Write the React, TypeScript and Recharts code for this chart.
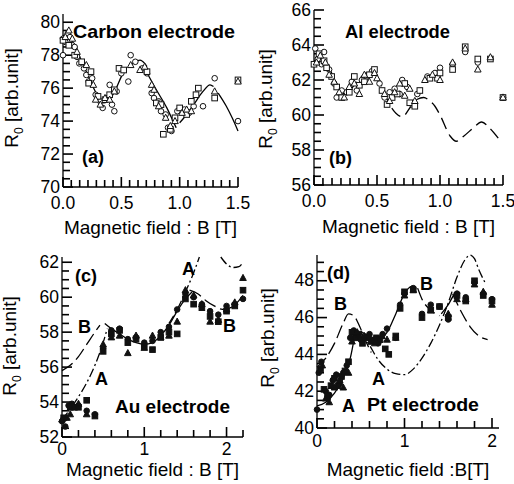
import { ComposedChart, Scatter, Line, XAxis, YAxis } from "recharts";

type Pair = [number, number | null];

// (a) Carbon electrode — open markers
const carbonCircles: Pair[] = [
  [0.0, 79.0], [0.02, 78.8], [0.04, 79.3], [0.06, 79.1], [0.0, 78.0], [0.08, 78.6],
  [0.1, 78.5], [0.12, 77.9], [0.14, 77.5], [0.18, 77.2], [0.2, 76.8], [0.22, 76.4],
  [0.25, 76.6], [0.28, 75.6], [0.32, 75.2], [0.34, 74.8], [0.38, 75.4], [0.4, 76.2],
  [0.42, 75.0], [0.44, 74.6], [0.46, 75.8], [0.5, 76.9], [0.58, 78.0], [0.56, 76.4],
  [0.62, 77.6], [0.68, 77.2], [0.72, 76.9], [0.76, 75.7], [0.78, 75.4], [0.82, 75.2],
  [0.84, 74.6], [0.88, 74.4], [0.9, 73.6], [0.93, 73.4], [0.98, 74.6], [1.04, 74.7],
  [1.08, 74.5], [1.12, 74.9], [1.2, 74.9], [1.3, 76.6], [1.5, 74.0],
];
const carbonSquares: Pair[] = [
  [0.0, 78.9], [0.05, 78.6], [0.1, 78.0], [0.16, 77.6], [0.22, 76.3], [0.24, 77.0],
  [0.3, 75.5], [0.36, 75.3], [0.4, 75.6], [0.44, 75.9], [0.48, 77.2], [0.52, 77.1],
  [0.72, 77.0], [0.8, 75.1], [0.84, 75.0], [0.86, 73.2], [0.92, 73.5], [0.96, 74.2],
  [1.0, 74.8], [1.06, 74.4], [1.1, 75.2], [1.14, 75.6], [1.16, 76.0], [1.3, 75.4],
  [1.5, 76.5],
];
const carbonTriangles: Pair[] = [
  [0.02, 79.1], [0.05, 79.5], [0.08, 79.0], [0.12, 78.2], [0.2, 77.4], [0.26, 76.2],
  [0.28, 75.3], [0.32, 75.0], [0.36, 75.4], [0.4, 75.3], [0.44, 75.8], [0.58, 77.4],
  [0.66, 77.1], [0.7, 77.3], [0.76, 76.2], [0.78, 75.9], [0.82, 74.9], [0.88, 74.2],
  [0.92, 73.7], [0.96, 74.0], [1.02, 74.5], [1.06, 74.7], [1.1, 74.6], [1.3, 75.8],
  [1.5, 76.4],
];
const carbonFit: Pair[] = [
  [0.0, 79.2], [0.05, 79.1], [0.1, 78.6], [0.15, 77.8], [0.2, 77.0], [0.25, 76.2],
  [0.3, 75.5], [0.35, 75.1], [0.4, 75.3], [0.45, 75.9], [0.5, 76.7], [0.53, 77.1],
  [0.55, null], [0.57, 77.3], [0.62, 77.6], [0.66, 77.7], [0.7, 77.5], [0.72, 77.3],
  [0.725, null], [0.73, 76.8], [0.8, 75.9], [0.89, 74.8], [0.95, 73.9], [0.97, 73.6],
  [0.98, null], [1.0, 73.9], [1.06, 74.4], [1.12, 75.0], [1.2, 75.8], [1.26, 76.2],
  [1.29, 76.1], [1.31, null], [1.33, 75.7], [1.4, 74.9], [1.45, 74.2], [1.5, 73.4],
];

// (b) Al electrode — open markers
const alCircles: Pair[] = [
  [0.01, 63.8], [0.03, 63.2], [0.06, 62.9], [0.08, 63.6], [0.12, 62.6], [0.16, 61.8],
  [0.18, 61.0], [0.22, 61.4], [0.26, 61.3], [0.3, 61.9], [0.34, 61.4], [0.38, 62.0],
  [0.42, 62.2], [0.46, 62.5], [0.52, 61.8], [0.56, 61.0], [0.6, 61.3], [0.64, 61.5],
  [0.68, 61.2], [0.7, 62.0], [0.74, 61.6], [0.78, 60.6], [0.82, 61.2], [0.9, 62.2],
  [0.96, 62.4], [1.0, 62.7], [1.1, 62.9], [1.2, 63.6], [1.3, 63.0], [1.5, 61.0],
];
const alSquares: Pair[] = [
  [0.0, 62.9], [0.04, 63.5], [0.08, 63.1], [0.1, 62.7], [0.14, 62.2], [0.18, 61.6],
  [0.22, 61.0], [0.28, 61.3], [0.32, 62.2], [0.36, 61.7], [0.4, 61.9], [0.44, 62.3],
  [0.48, 62.6], [0.54, 61.4], [0.58, 60.6], [0.62, 61.0], [0.66, 61.2], [0.72, 61.8],
  [0.76, 60.7], [0.8, 60.5], [0.84, 61.4], [0.92, 62.1], [0.98, 62.1], [1.0, 62.4],
  [1.1, 62.6], [1.2, 63.9], [1.3, 63.2], [1.4, 63.2], [1.5, 61.0],
];
const alTriangles: Pair[] = [
  [0.02, 63.0], [0.05, 63.4], [0.09, 63.0], [0.12, 62.3], [0.16, 61.9], [0.2, 61.3],
  [0.24, 61.0], [0.28, 61.6], [0.32, 61.8], [0.36, 61.2], [0.4, 62.3], [0.44, 61.9],
  [0.48, 62.4], [0.5, 62.1], [0.56, 61.2], [0.6, 60.8], [0.64, 61.3], [0.68, 61.8],
  [0.72, 61.1], [0.76, 61.5], [0.8, 60.8], [0.88, 62.0], [0.94, 62.3], [1.0, 62.0],
  [1.1, 63.0], [1.2, 63.8], [1.3, 62.6], [1.4, 63.3], [1.5, 61.0],
];
const alFit: Pair[] = [
  [0.0, 63.1], [0.1, 62.9], [0.14, 62.4], [0.19, 61.6], [0.25, 61.2], [0.34, 61.9],
  [0.42, 62.4], [0.49, 62.3], [0.54, 61.6], [0.6, 60.6], [0.65, 60.1], [0.7, 59.9],
  [0.77, 60.5], [0.82, 60.9], [0.87, 61.0], [0.92, 60.8], [0.96, 60.5], [1.0, 60.0],
  [1.08, 58.8], [1.13, 58.5], [1.19, 58.8], [1.27, 59.3], [1.33, 59.6], [1.4, 59.2],
  [1.47, 58.6],
];

// (c) Au electrode — filled markers
const auCircles: Pair[] = [
  [0.0, 52.9], [0.04, 52.6], [0.08, 53.8], [0.12, 53.9], [0.2, 53.8], [0.3, 53.5],
  [0.4, 53.3], [0.5, 57.1], [0.6, 58.1], [0.7, 58.2], [0.8, 57.6], [0.9, 57.7],
  [1.0, 57.4], [1.1, 57.5], [1.2, 58.0], [1.3, 58.3], [1.4, 59.3], [1.5, 60.2],
  [1.6, 60.0], [1.7, 59.6], [1.8, 59.2], [1.9, 59.0], [2.0, 59.5], [2.1, 59.6], [2.2, 59.9],
];
const auSquares: Pair[] = [
  [0.02, 53.1], [0.1, 53.7], [0.15, 53.7], [0.2, 53.7], [0.3, 54.1], [0.4, 53.2],
  [0.5, 56.9], [0.6, 57.9], [0.7, 58.1], [0.8, 57.4], [0.9, 57.6], [1.0, 57.2],
  [1.1, 57.0], [1.2, 57.7], [1.3, 58.0], [1.4, 57.9], [1.5, 59.9], [1.6, 59.6],
  [1.7, 59.4], [1.8, 58.9], [1.9, 58.6], [2.0, 59.2], [2.1, 59.5], [2.2, 60.4],
];
const auTriangles: Pair[] = [
  [0.0, 53.0], [0.06, 53.1], [0.1, 53.3], [0.2, 53.9], [0.3, 53.3], [0.5, 57.3],
  [0.6, 57.7], [0.7, 57.8], [0.8, 56.8], [0.9, 57.8], [1.0, 57.1], [1.1, 57.8],
  [1.2, 57.7], [1.3, 57.8], [1.4, 58.6], [1.5, 60.4], [1.6, 60.1], [1.7, 59.6],
  [1.8, 58.6], [1.9, 58.7], [2.0, 59.3], [2.1, 59.7], [2.2, 61.1],
];
const auSolid: Pair[] = [
  [0.52, 58.5], [0.6, 58.2], [0.7, 57.9], [0.8, 57.6], [0.9, 57.4], [1.0, 57.3],
  [1.1, 57.4], [1.2, 57.8], [1.3, 58.4], [1.4, 59.2], [1.5, 59.9], [1.58, 60.3],
];
const auCurveA: Pair[] = [
  [0.0, 53.0], [0.1, 53.6], [0.2, 54.3], [0.3, 55.1], [0.4, 56.1], [0.5, 57.4],
  [0.55, 58.2], [0.6, null], [1.3, 58.5], [1.4, 59.3], [1.5, 60.3], [1.6, 61.4],
  [1.67, 62.3], [1.8, null], [1.93, 62.3], [2.0, 61.9], [2.08, 61.7], [2.15, 61.75],
  [2.2, 62.0],
];
const auCurveB: Pair[] = [
  [0.0, 55.8], [0.1, 56.1], [0.2, 56.6], [0.3, 57.3], [0.4, 58.0], [0.46, 58.4],
  [0.5, null], [1.55, 60.4], [1.65, 60.2], [1.75, 59.8], [1.85, 59.5], [1.95, 59.3],
  [2.05, 59.4], [2.15, 59.8], [2.2, 60.1],
];

// (d) Pt electrode — filled markers
const ptCircles: Pair[] = [
  [0.0, 41.0], [0.02, 43.0], [0.05, 43.6], [0.1, 42.0], [0.14, 41.8], [0.18, 42.6],
  [0.22, 42.9], [0.26, 42.4], [0.3, 43.0], [0.34, 43.4], [0.38, 44.9], [0.42, 45.3],
  [0.46, 45.0], [0.5, 44.8], [0.55, 44.9], [0.6, 45.1], [0.65, 44.8], [0.7, 44.6],
  [0.75, 45.1], [0.8, 45.4], [0.9, 44.9], [0.95, 46.7], [1.0, 47.3], [1.1, 47.6],
  [1.2, 46.2], [1.3, 46.7], [1.4, 46.6], [1.5, 45.9], [1.6, 47.3], [1.7, 47.1],
  [1.8, 47.9], [1.9, 47.3], [2.0, 47.0],
];
const ptSquares: Pair[] = [
  [0.04, 43.2], [0.08, 42.1], [0.12, 41.7], [0.16, 42.3], [0.2, 42.7], [0.24, 42.3],
  [0.28, 42.8], [0.32, 43.1], [0.36, 43.6], [0.4, 45.2], [0.44, 44.9], [0.48, 45.1],
  [0.52, 44.6], [0.58, 44.9], [0.62, 44.7], [0.68, 44.9], [0.72, 44.8], [0.78, 44.3],
  [0.82, 44.0], [0.9, 45.0], [0.95, 46.5], [1.0, 47.4], [1.1, 47.5], [1.2, 46.0],
  [1.3, 46.4], [1.4, 46.6], [1.5, 46.0], [1.6, 47.2], [1.7, 46.9], [1.8, 48.0],
  [1.9, 47.2], [2.0, 46.9],
];
const ptTriangles: Pair[] = [
  [0.06, 43.4], [0.1, 41.6], [0.14, 41.4], [0.2, 42.2], [0.26, 42.6], [0.3, 42.2],
  [0.36, 43.0], [0.4, 44.7], [0.46, 45.2], [0.54, 45.0], [0.6, 44.9], [0.66, 44.6],
  [0.74, 45.0], [0.8, 44.8], [0.9, 44.9], [1.0, 47.2], [1.1, 47.5], [1.3, 46.4],
  [1.5, 46.2], [1.6, 47.0], [1.7, 47.0], [1.8, 47.8], [1.9, 47.4], [2.0, 46.7],
];
const ptSolid: Pair[] = [
  [0.0, 41.2], [0.1, 41.4], [0.2, 41.9], [0.3, 42.7], [0.38, 43.8], [0.44, 45.0],
  [0.5, 45.2], [0.6, 45.0], [0.7, 44.8], [0.8, 45.2], [0.9, 46.2], [1.0, 47.3],
  [1.08, 47.7], [1.12, 47.5], [1.3, null], [1.42, 46.2], [1.5, 46.7], [1.56, 47.2],
  [1.6, 47.4],
];
const ptCurveA: Pair[] = [
  [0.5, 45.2], [0.6, 44.5], [0.7, 43.7], [0.8, 43.2], [0.9, 42.95], [1.0, 42.9],
  [1.1, 43.2], [1.2, 43.8], [1.3, 44.6], [1.4, 45.6], [1.5, 46.8], [1.6, 48.2],
  [1.7, 49.2], [1.75, 49.4], [1.8, 49.2], [1.85, 48.6], [1.92, 47.9],
];
const ptCurveB: Pair[] = [
  [0.0, 43.3], [0.1, 43.8], [0.2, 44.6], [0.3, 45.7], [0.36, 46.2], [0.42, 46.1],
  [0.48, 45.6], [0.55, 44.8], [0.62, 44.1], [0.7, null], [1.15, 47.6], [1.2, 47.0],
  [1.3, 46.4], [1.4, 46.1], [1.5, null], [1.55, 47.3], [1.65, 46.3], [1.75, 45.5],
  [1.85, 45.0], [1.95, 44.8],
];

const toRows = (list: Pair[]) => list.map(([b, r]) => ({ b, r }));

const range = (lo: number, hi: number, step: number) => {
  const out: number[] = [];
  for (let v = lo; v <= hi + 1e-9; v += step) out.push(Math.round(v * 1000) / 1000);
  return out;
};

type Kind = "circle" | "square" | "triangle";

function makeMarker(kind: Kind, filled: boolean) {
  return (p: any) => {
    const { cx, cy } = p;
    if (cx == null || cy == null) return <g />;
    const fill = filled ? "#111" : "#fff";
    const common = { fill, stroke: "#111", strokeWidth: 1 };
    if (kind === "circle") return <circle cx={cx} cy={cy} r={2.8} {...common} />;
    if (kind === "square")
      return <rect x={cx - 2.8} y={cy - 2.8} width={5.6} height={5.6} {...common} />;
    return (
      <polygon
        points={`${cx},${cy - 3.6} ${cx - 3.3},${cy + 2.5} ${cx + 3.3},${cy + 2.5}`}
        {...common}
      />
    );
  };
}

const isIn = (list: number[], v: number) => list.some((m) => Math.abs(m - v) < 1e-6);

type Curve = { rows: Pair[]; dash?: string };
type Note = { x: number; y: number; text: string; size?: number; len?: number };

interface PanelProps {
  left: number;
  top: number;
  w: number;
  h: number;
  box: [number, number, number, number];
  xDomain: [number, number];
  yDomain: [number, number];
  xTicks: number[];
  xMajor: number[];
  xFmt: (v: number) => string;
  yTicks: number[];
  yMajor: number[];
  filled: boolean;
  marks: [Pair[], Kind][];
  curves: Curve[];
  notes: Note[];
  xTitle: string;
  xTitleY: number;
  xLabelDy: number;
  yTitleX: number;
  yTitleY: number;
}

const FONT = "'Liberation Sans', Arial, Helvetica, sans-serif";

function Panel(props: PanelProps) {
  const [l, t, r, b] = props.box;
  const [x0, x1] = props.xDomain;
  const [y0, y1] = props.yDomain;
  // inward tick marks along the bottom and left frame
  const tickX = (v: number) => l + ((v - x0) / (x1 - x0)) * (r - l);
  const tickY = (v: number) => b - ((v - y0) / (y1 - y0)) * (b - t);

  const xTick = (p: any) => {
    const v = p.payload.value;
    if (!isIn(props.xMajor, v)) return <g />;
    return (
      <text x={p.x} y={p.y + props.xLabelDy} textAnchor="middle" fontSize={17.5} fill="#000" fontFamily={FONT}>
        {props.xFmt(v)}
      </text>
    );
  };
  const yTick = (p: any) => {
    const v = p.payload.value;
    if (!isIn(props.yMajor, v)) return <g />;
    return (
      <text x={p.x - 3} y={p.y + 5.5} textAnchor="end" fontSize={17.5} fill="#000" fontFamily={FONT}>
        {v}
      </text>
    );
  };
  return (
    <div style={{ position: "absolute", left: props.left, top: props.top }}>
      <ComposedChart
        width={props.w}
        height={props.h}
        margin={{ top: t, right: props.w - r, left: 0, bottom: 0 }}
        style={{ fontFamily: FONT }}
      >
        <XAxis
          dataKey="b"
          type="number"
          domain={props.xDomain}
          ticks={props.xTicks}
          interval={0}
          height={props.h - b}
          tickSize={0}
          tickMargin={0}
          tickLine={false}
          axisLine={{ stroke: "#000", strokeWidth: 1.3 }}
          tick={xTick}
        />
        <YAxis
          dataKey="r"
          type="number"
          domain={props.yDomain}
          ticks={props.yTicks}
          interval={0}
          width={l}
          tickSize={0}
          tickMargin={0}
          tickLine={false}
          axisLine={{ stroke: "#000", strokeWidth: 1.3 }}
          tick={yTick}
        />
        <XAxis
          xAxisId="top"
          orientation="top"
          type="number"
          domain={props.xDomain}
          height={0}
          tick={false}
          tickLine={false}
          axisLine={{ stroke: "#000", strokeWidth: 1.3 }}
        />
        <YAxis
          yAxisId="right"
          orientation="right"
          type="number"
          domain={props.yDomain}
          width={0}
          tick={false}
          tickLine={false}
          axisLine={{ stroke: "#000", strokeWidth: 1.3 }}
        />
        {props.xTicks.map((v) => {
          const len = isIn(props.xMajor, v) ? 10 : 7;
          return <rect key={"xt" + v} x={tickX(v) - 0.8} y={b - len} width={1.6} height={len} fill="#000" />;
        })}
        {props.yTicks.map((v) => {
          const len = isIn(props.yMajor, v) ? 10 : 7;
          return <rect key={"yt" + v} x={l} y={tickY(v) - 0.8} width={len} height={1.6} fill="#000" />;
        })}
        {props.curves.map((c, i) => (
          <Line
            key={"c" + i}
            data={toRows(c.rows)}
            dataKey="r"
            type="monotone"
            stroke="#000"
            strokeWidth={1.3}
            strokeDasharray={c.dash}
            dot={false}
            activeDot={false}
            connectNulls={false}
            isAnimationActive={false}
          />
        ))}
        {props.marks.map(([rows, kind], i) => (
          <Scatter
            key={"m" + i}
            data={toRows(rows)}
            dataKey="r"
            shape={makeMarker(kind, props.filled)}
            isAnimationActive={false}
          />
        ))}
        {props.notes.map((n, i) => (
          <text
            key={"n" + i}
            x={n.x}
            y={n.y}
            fontSize={n.size ?? 18}
            fontWeight="bold"
            fontFamily={FONT}
            fill="#000"
            textLength={n.len}
            lengthAdjust={n.len ? "spacingAndGlyphs" : undefined}
          >
            {n.text}
          </text>
        ))}
        <text x={(l + r) / 2} y={props.xTitleY} textAnchor="middle" fontSize={19} fontFamily={FONT} fill="#000">
          {props.xTitle}
        </text>
        <text
          transform={`translate(${props.yTitleX + 6},${props.yTitleY}) rotate(-90)`}
          textAnchor="middle"
          fontSize={19}
          fontFamily={FONT}
          fill="#000"
        >
          R<tspan fontSize={12} dy={5}>0</tspan>
          <tspan dy={-5}> [arb.unit]</tspan>
        </text>
      </ComposedChart>
    </div>
  );
}

const xTicks15 = range(0, 1.5, 0.5 / 7);
const xMajor15 = [0, 0.5, 1.0, 1.5];
const fmt1 = (v: number) => v.toFixed(1);
const fmt0 = (v: number) => String(Math.round(v));

export default function App() {
  return (
    <div
      style={{
        position: "fixed",
        left: 0,
        top: 0,
        width: 514,
        height: 484,
        background: "#fff",
        overflow: "hidden",
        fontFamily: FONT,
      }}
    >
      <Panel
        left={0}
        top={0}
        w={257}
        h={246}
        box={[63, 14, 238, 187]}
        xDomain={[0, 1.5]}
        yDomain={[70, 80.5]}
        xTicks={xTicks15}
        xMajor={xMajor15}
        xFmt={fmt1}
        yTicks={range(70, 80, 0.5)}
        yMajor={[70, 72, 74, 76, 78, 80]}
        filled={false}
        marks={[[carbonCircles, "circle"], [carbonSquares, "square"], [carbonTriangles, "triangle"]]}
        curves={[{ rows: carbonFit }]}
        notes={[
          { x: 73, y: 38, text: "Carbon electrode", len: 162, size: 19 },
          { x: 82, y: 163, text: "(a)" },
        ]}
        xTitle="Magnetic field : B [T]"
        xTitleY={234}
        xLabelDy={22}
        yTitleX={12}
        yTitleY={98}
      />
      <Panel
        left={257}
        top={0}
        w={257}
        h={246}
        box={[57, 10, 246, 185]}
        xDomain={[0, 1.5]}
        yDomain={[56, 66]}
        xTicks={xTicks15}
        xMajor={xMajor15}
        xFmt={fmt1}
        yTicks={range(56, 66, 0.5)}
        yMajor={[56, 58, 60, 62, 64, 66]}
        filled={false}
        marks={[[alCircles, "circle"], [alSquares, "square"], [alTriangles, "triangle"]]}
        curves={[{ rows: alFit, dash: "12 6" }]}
        notes={[
          { x: 88, y: 38, text: "Al electrode", len: 105 },
          { x: 72, y: 164, text: "(b)" },
        ]}
        xTitle="Magnetic field : B [T]"
        xTitleY={233}
        xLabelDy={22}
        yTitleX={9}
        yTitleY={99}
      />
      <Panel
        left={0}
        top={242}
        w={257}
        h={242}
        box={[62, 15, 243, 195]}
        xDomain={[0, 2.2]}
        yDomain={[52, 62.3]}
        xTicks={range(0, 2.2, 0.2)}
        xMajor={[0, 1, 2]}
        xFmt={fmt0}
        yTicks={range(52, 62, 0.5)}
        yMajor={[52, 54, 56, 58, 60, 62]}
        filled={true}
        marks={[[auCircles, "circle"], [auSquares, "square"], [auTriangles, "triangle"]]}
        curves={[
          { rows: auSolid },
          { rows: auCurveA, dash: "9 3 2 3" },
          { rows: auCurveB, dash: "13 5" },
        ]}
        notes={[
          { x: 75, y: 40, text: "(c)" },
          { x: 182, y: 33, text: "A" },
          { x: 78, y: 91, text: "B" },
          { x: 95, y: 143, text: "A" },
          { x: 223, y: 90, text: "B" },
          { x: 115, y: 171, text: "Au electrode", len: 115 },
        ]}
        xTitle="Magnetic field : B [T]"
        xTitleY={234}
        xLabelDy={18}
        yTitleX={10}
        yTitleY={104}
      />
      <Panel
        left={257}
        top={242}
        w={257}
        h={242}
        box={[60, 13, 242, 186]}
        xDomain={[0, 2.08]}
        yDomain={[40, 49.4]}
        xTicks={range(0, 2.0, 0.2)}
        xMajor={[0, 1, 2]}
        xFmt={fmt0}
        yTicks={range(40, 49, 0.5)}
        yMajor={[40, 42, 44, 46, 48]}
        filled={true}
        marks={[[ptCircles, "circle"], [ptSquares, "square"], [ptTriangles, "triangle"]]}
        curves={[
          { rows: ptSolid },
          { rows: ptCurveA, dash: "9 3 2 3" },
          { rows: ptCurveB, dash: "13 5" },
        ]}
        notes={[
          { x: 70, y: 37, text: "(d)" },
          { x: 77, y: 68, text: "B" },
          { x: 163, y: 48, text: "B" },
          { x: 115, y: 143, text: "A" },
          { x: 85, y: 170, text: "A" },
          { x: 110, y: 169, text: "Pt electrode", len: 112 },
        ]}
        xTitle="Magnetic field :B[T]"
        xTitleY={234}
        xLabelDy={19}
        yTitleX={11}
        yTitleY={96}
      />
    </div>
  );
}
